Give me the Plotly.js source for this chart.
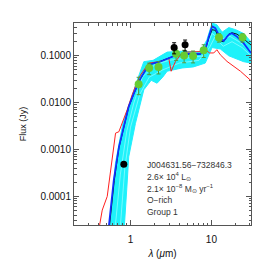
<!DOCTYPE html>
<html>
<head>
<meta charset="utf-8">
<script src="https://cdn.plot.ly/plotly-3.0.1.min.js"></script>
<style>html,body{margin:0;padding:0;background:#fff;}#chart{width:273px;height:273px;}</style>
</head>
<body>
<div id="chart"></div>
<script>
// Photometry (green, with errors)
const greenLam = [1.26, 1.70, 2.22, 3.66, 4.60, 5.94, 8.03, 12.4, 24.3];
const greenFlux = [0.0248, 0.0546, 0.058, 0.110, 0.101, 0.0985, 0.132, 0.246, 0.246];
const greenErr = [0.010, 0.015, 0.017, 0.030, 0.030, 0.028, 0.040, 0.050, 0.050];
// Photometry (black)
const blackLam = [0.826, 3.46, 4.73];
const blackFlux = [0.000485, 0.150, 0.172];
const blackErr = [0.00005, 0.040, 0.045];

// Red model
const redLam = [0.414, 0.447, 0.515, 0.594, 0.653, 0.718, 0.789, 0.91, 1.05, 1.21, 1.33, 1.68, 2.34, 2.97, 3.18, 3.6, 4.34, 5.0, 7.3, 8.4, 9.5, 10.7, 11.7, 12.9, 15.6, 18.9, 22.9, 30.9];
const redFlux = [2.4e-5, 5.1e-5, 1.0e-4, 7.1e-4, 2.24e-3, 2.4e-3, 3.6e-3, 7.1e-3, 0.0148, 0.0282, 0.0389, 0.0697, 0.0759, 0.0891, 0.0468, 0.0759, 0.115, 0.120, 0.123, 0.135, 0.115, 0.115, 0.135, 0.105, 0.0759, 0.0589, 0.0468, 0.0295];

// Blue model
const blueLam = [0.54, 0.62, 0.72, 0.83, 0.95, 1.1, 1.33, 1.68, 2.34, 3.4, 5.0, 7.3, 8.4, 9.3, 10.2, 11.2, 12.9, 14.2, 16.4, 17.9, 20.7, 25, 30.9];
const blueFlux = [2.4e-5, 2.24e-4, 1.15e-3, 3.39e-3, 8.3e-3, 0.0158, 0.0331, 0.0646, 0.0759, 0.0977, 0.110, 0.110, 0.135, 0.257, 0.427, 0.389, 0.240, 0.209, 0.282, 0.302, 0.257, 0.186, 0.115];

// Black model
const blkLam = [0.55, 0.63, 0.72, 0.83, 0.95, 1.1, 1.33, 1.68, 2.34, 3.4, 5.0, 7.3, 8.4, 9.3, 10.2, 11.2, 12.9, 14.2, 16.4, 18.0, 20.7, 25, 30.9];
const blkFlux = [2.4e-5, 2.2e-4, 1.1e-3, 3.3e-3, 8.1e-3, 0.0155, 0.0325, 0.064, 0.076, 0.098, 0.108, 0.108, 0.13, 0.24, 0.36, 0.35, 0.21, 0.20, 0.29, 0.31, 0.29, 0.23, 0.17];

// Cyan model grid envelope
const gridUpLam = [0.56, 0.65, 0.8, 1.0, 1.21, 1.46, 1.9, 2.84, 4.34, 7.3, 8.8, 10.2, 11.7, 13.6, 16.4, 20, 25, 30.9];
const gridUpFlux = [2.4e-5, 5e-4, 3.5e-3, 0.0115, 0.030, 0.075, 0.080, 0.120, 0.125, 0.120, 0.220, 0.50, 0.46, 0.32, 0.40, 0.36, 0.30, 0.20];
const gridLoLam = [0.84, 0.9, 0.95, 1.15, 1.46, 1.8, 2.13, 2.5, 2.84, 3.5, 4.34, 6, 8.4, 10.2, 12.9, 16.4, 20.7, 25, 30.9];
const gridLoFlux = [2.4e-5, 1.5e-4, 7e-4, 3.6e-3, 0.0188, 0.030, 0.026, 0.035, 0.047, 0.050, 0.055, 0.058, 0.070, 0.150, 0.140, 0.100, 0.085, 0.075, 0.070];
// Two individual grid models (light streaks inside the band)
const grid1Lam = [0.65, 0.75, 0.9, 1.1, 1.4, 2, 3, 5, 8, 10.2, 13, 17, 22, 30.9];
const grid1Flux = [2.4e-5, 3e-4, 2.5e-3, 0.010, 0.035, 0.065, 0.080, 0.090, 0.100, 0.30, 0.22, 0.26, 0.20, 0.13];
const grid2Lam = [0.75, 0.85, 1.0, 1.3, 1.7, 2.5, 4, 7, 9.5, 11, 14, 18, 24, 30.9];
const grid2Flux = [2.4e-5, 4e-4, 3e-3, 0.015, 0.035, 0.050, 0.070, 0.080, 0.150, 0.25, 0.16, 0.20, 0.15, 0.10];

const yTickVals = [1e-4, 1e-3, 1e-2, 1e-1];
const yTickText = ['0.0001', '0.0010', '0.0100', '0.1000'];
const xTickVals = [1, 10];
const xTickText = ['1', '10'];

const infoLines = ['J004631.56\u2212732846.3', '2.6\u00d7 10<sup>4</sup> L<sub>\u2299</sub>', '2.1\u00d7 10<sup>\u22128</sup> M<sub>\u2299</sub> yr<sup>\u22121</sup>', 'O\u2212rich', 'Group 1'];

function minorVals(lo, hi) {
  const v = [];
  for (let d = lo; d < hi; d++) {
    for (let m = 2; m <= 9; m++) v.push(m * Math.pow(10, d));
  }
  return v;
}

const polyLam = gridUpLam.concat(gridLoLam.slice().reverse());
const polyFlux = gridUpFlux.concat(gridLoFlux.slice().reverse());

const traces = [
  {x: polyLam, y: polyFlux, type: 'scatter', mode: 'lines', fill: 'toself',
   fillcolor: '#1ef2fa', line: {color: '#22eeff', width: 1}, hoverinfo: 'skip'},
  {x: grid1Lam, y: grid1Flux, type: 'scatter', mode: 'lines', line: {color: '#9ffcff', width: 0.7}},
  {x: grid2Lam, y: grid2Flux, type: 'scatter', mode: 'lines', line: {color: '#9ffcff', width: 0.7}},
  {x: redLam, y: redFlux, type: 'scatter', mode: 'lines', line: {color: '#ff2020', width: 1}},
  {x: blkLam, y: blkFlux, type: 'scatter', mode: 'lines', line: {color: '#111111', width: 1}},
  {x: blueLam, y: blueFlux, type: 'scatter', mode: 'lines', line: {color: '#1030ff', width: 1.7}},
  {x: greenLam, y: greenFlux, type: 'scatter', mode: 'markers',
   marker: {color: '#66cc33', size: 8},
   error_y: {type: 'data', array: greenErr, color: '#4f9a3c', thickness: 1, width: 2}},
  {x: blackLam, y: blackFlux, type: 'scatter', mode: 'markers',
   marker: {color: '#000000', size: 7},
   error_y: {type: 'data', array: blackErr, color: '#000000', thickness: 1, width: 2}}
];

const annotations = infoLines.map((t, i) => ({
  xref: 'paper', yref: 'paper', x: (145 - 74) / (250.7 - 74), y: 1 - ((165 + i * 11.8) - 23.3) / (225.3 - 23.3),
  xanchor: 'left', yanchor: 'middle', text: t, showarrow: false,
  font: {family: 'Liberation Sans, Arial, sans-serif', size: 8.5, color: '#333333'}
}));

const layout = {
  width: 273, height: 273,
  margin: {l: 74, r: 22.3, t: 23.3, b: 47.7},
  paper_bgcolor: '#ffffff', plot_bgcolor: '#ffffff',
  showlegend: false,
  font: {family: 'Liberation Sans, Arial, sans-serif', color: '#111111'},
  xaxis: {
    type: 'log', range: [Math.log10(0.2), Math.log10(30.9)],
    tickmode: 'array', tickvals: xTickVals, ticktext: xTickText,
    ticks: 'inside', ticklen: 5, tickcolor: '#555', tickwidth: 1,
    mirror: 'allticks', showline: true, linecolor: '#555', linewidth: 1,
    showgrid: false, zeroline: false, tickfont: {size: 10},
    ticklabelstandoff: 5,
    minor: {tickmode: 'array', tickvals: minorVals(-1, 2), ticks: 'inside', ticklen: 2.5, tickcolor: '#555', showgrid: false},
    title: {text: '<i>\u03bb</i> (<i>\u03bc</i>m)', font: {size: 10}, standoff: 5}
  },
  yaxis: {
    type: 'log', range: [-4.61, -0.30],
    tickmode: 'array', tickvals: yTickVals, ticktext: yTickText,
    ticks: 'inside', ticklen: 5, tickcolor: '#555', tickwidth: 1,
    mirror: 'allticks', showline: true, linecolor: '#555', linewidth: 1,
    showgrid: false, zeroline: false, tickfont: {size: 10},
    minor: {tickmode: 'array', tickvals: minorVals(-5, 0), ticks: 'inside', ticklen: 2.5, tickcolor: '#555', showgrid: false},
    title: {text: 'Flux (Jy)', font: {size: 9}, standoff: 12}
  },
  annotations: annotations
};

Plotly.newPlot('chart', traces, layout, {staticPlot: true, displayModeBar: false});
</script>
</body>
</html>
